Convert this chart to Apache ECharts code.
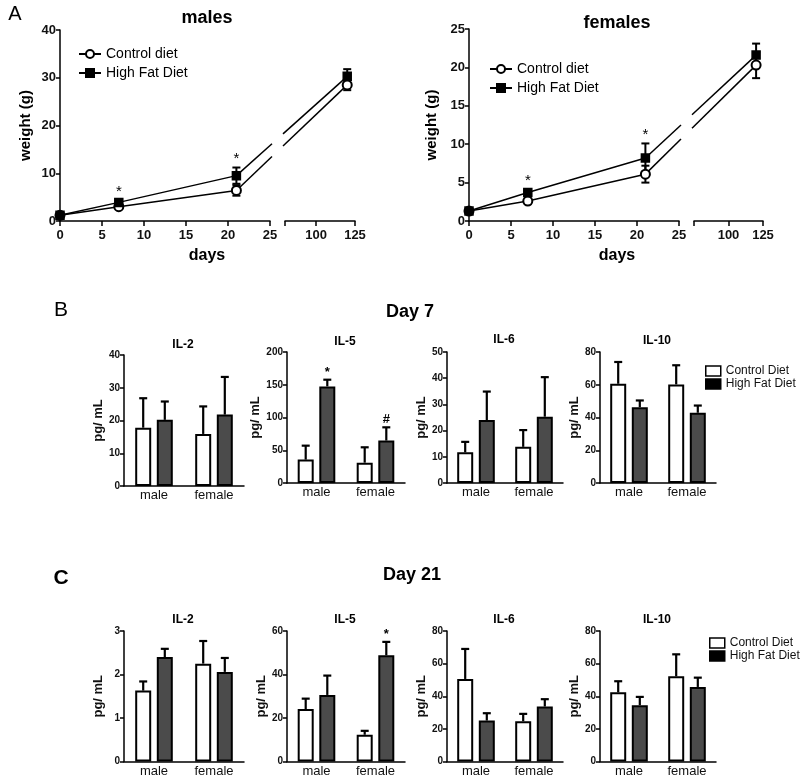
<!DOCTYPE html>
<html><head><meta charset="utf-8">
<script src="https://cdn.jsdelivr.net/npm/echarts@6/dist/echarts.min.js"></script>
<style>html,body{margin:0;padding:0;background:#fff}#c{width:800px;height:782px}</style>
</head><body><div id="c"></div>
<script>
// ---------- Panel A data (body weight, g) ----------
const days = [0, 7, 21, 120];
const maleControl = [1.2, 3.0, 6.4, 28.5];
const maleControlErr = [0.2, 0.4, 1.1, 1.1];
const maleHighFat = [1.2, 3.9, 9.5, 30.3];
const maleHighFatErr = [0.2, 0.5, 1.7, 1.5];
const femaleControl = [1.3, 2.6, 6.1, 20.3];
const femaleControlErr = [0.2, 0.3, 1.1, 1.7];
const femaleHighFat = [1.3, 3.7, 8.2, 21.6];
const femaleHighFatErr = [0.2, 0.4, 1.9, 1.5];
const maleMarks = ['', '*', '*', ''];
const femaleMarks = ['', '*', '*', ''];
const lateDayTicks = [100, 125];

// ---------- Panels B / C data (pg/mL) ----------
const groups = ['male', 'female'];
const d7IL2Ctrl = [17.8, 15.9],  d7IL2CtrlErr = [9.0, 8.4];
const d7IL2Hfd = [20.2, 21.8],   d7IL2HfdErr = [5.6, 11.5];
const d7IL5Ctrl = [35.7, 31.0],  d7IL5CtrlErr = [21.3, 23.5];
const d7IL5Hfd = [147.5, 64.8],  d7IL5HfdErr = [10.2, 20.2];
const d7IL5Marks = ['*', '#'];
const d7IL6Ctrl = [11.7, 13.8],  d7IL6CtrlErr = [4.0, 6.4];
const d7IL6Hfd = [24.0, 25.3],   d7IL6HfdErr = [10.9, 15.1];
const d7IL10Ctrl = [60.6, 60.2], d7IL10CtrlErr = [13.3, 11.7];
const d7IL10Hfd = [46.3, 42.9],  d7IL10HfdErr = [4.1, 4.4];

const d21IL2Ctrl = [1.63, 2.25], d21IL2CtrlErr = [0.21, 0.52];
const d21IL2Hfd = [2.40, 2.06],  d21IL2HfdErr = [0.19, 0.32];
const d21IL5Ctrl = [24.1, 12.3], d21IL5CtrlErr = [4.8, 1.8];
const d21IL5Hfd = [30.6, 48.8],  d21IL5HfdErr = [8.9, 6.2];
const d21IL5Marks = ['', '*'];
const d21IL6Ctrl = [50.6, 24.7], d21IL6CtrlErr = [18.4, 4.5];
const d21IL6Hfd = [25.1, 33.7],  d21IL6HfdErr = [4.5, 4.5];
const d21IL10Ctrl = [42.4, 52.2], d21IL10CtrlErr = [6.8, 13.5];
const d21IL10Hfd = [34.5, 45.7],  d21IL10HfdErr = [5.1, 5.7];

// ---------- styling ----------
const FONT = 'Liberation Sans, Arial, Helvetica, sans-serif';
const BLACK = '#000';
const DARK = '#4b4b4b';
const BAR_W = 16, BAR_GAP = 0.35;

const chart = echarts.init(document.getElementById('c'), null, {renderer: 'canvas'});

const option = {
  animation: false,
  backgroundColor: '#fff',
  textStyle: {fontFamily: FONT},
  grid: [], xAxis: [], yAxis: [], series: [], legend: [], graphic: []
};

function txt(text, x, y, size, weight, align) {
  option.graphic.push({type: 'text', x: x, y: y, silent: true,
    style: {text: text, fill: BLACK, fontSize: size, fontWeight: weight || 'normal', fontFamily: FONT,
      align: align || 'center', verticalAlign: 'middle'}});
}

const axLine = {show: true, onZero: false, lineStyle: {color: BLACK, width: 1.5}};

// ---------- weight panels ----------
function weightPanel(c) {
  const gi = option.grid.length;
  option.grid.push({left: c.left, top: c.top, width: c.w1, height: c.h});
  option.grid.push({left: c.left2, top: c.top, width: c.w2, height: c.h});
  const xa = option.xAxis.length, ya = option.yAxis.length;
  const lab = {fontWeight: 'bold', fontSize: 13, color: '#111', margin: 8};
  option.xAxis.push({gridIndex: gi, type: 'value', min: 0, max: c.seg1Max, interval: 5,
    axisLine: axLine, axisTick: {show: true, length: 5, lineStyle: {color: BLACK, width: 1.5}},
    axisLabel: lab, splitLine: {show: false}});
  option.xAxis.push({gridIndex: gi + 1, type: 'value', min: c.seg2Min, max: 125,
    axisLine: axLine,
    axisTick: {show: true, length: 5, customValues: [c.seg2Min].concat(lateDayTicks), lineStyle: {color: BLACK, width: 1.5}},
    axisLabel: Object.assign({customValues: lateDayTicks}, lab), splitLine: {show: false}});
  option.yAxis.push({gridIndex: gi, type: 'value', min: 0, max: c.ymax, interval: c.yint,
    name: 'weight (g)', nameLocation: 'middle', nameGap: c.nameGap,
    nameTextStyle: {fontWeight: 'bold', fontSize: 15, color: BLACK},
    axisLine: axLine, axisTick: {show: true, length: 4, lineStyle: {color: BLACK, width: 1.5}},
    axisLabel: {fontWeight: 'bold', fontSize: 13, color: '#111', margin: 4}, splitLine: {show: false}});
  option.yAxis.push({gridIndex: gi + 1, type: 'value', min: 0, max: c.ymax, show: false});

  const seg1 = [], seg2 = [];
  days.forEach((d, i) => (d <= c.seg1Max ? seg1 : seg2).push(i));

  function errRender(marks) {
    return function (params, api) {
      const x = api.value(0), m = api.value(1), e = api.value(2), idx = api.value(3);
      const top = api.coord([x, m + e]), bot = api.coord([x, m - e]);
      const ls = {stroke: BLACK, lineWidth: 2};
      const ch = [
        {type: 'line', shape: {x1: top[0], y1: top[1], x2: bot[0], y2: bot[1]}, style: ls},
        {type: 'line', shape: {x1: top[0] - 4, y1: top[1], x2: top[0] + 4, y2: top[1]}, style: ls},
        {type: 'line', shape: {x1: bot[0] - 4, y1: bot[1], x2: bot[0] + 4, y2: bot[1]}, style: ls}
      ];
      const mk = marks ? marks[idx] : '';
      if (mk) ch.push({type: 'text', x: top[0], y: top[1] - 1,
        style: {text: mk, fill: BLACK, fontSize: 15, fontFamily: FONT, align: 'center', verticalAlign: 'bottom'}});
      return {type: 'group', children: ch};
    };
  }
  const diets = [
    {name: 'Control diet', v: c.ctrl, e: c.ctrlErr, marks: null, symbol: 'emptyCircle', size: 9},
    {name: 'High Fat Diet', v: c.hfd, e: c.hfdErr, marks: c.marks, symbol: 'rect', size: 8}
  ];
  // error bars
  diets.forEach(d => {
    [[seg1, xa, ya], [seg2, xa + 1, ya + 1]].forEach(([seg, xi, yi]) => {
      option.series.push({type: 'custom', xAxisIndex: xi, yAxisIndex: yi, silent: true, z: 3,
        renderItem: errRender(d.marks),
        data: seg.map(i => [days[i], d.v[i], d.e[i], i])});
    });
  });
  // connecting line across the axis break
  const a = seg1[seg1.length - 1], b = seg2[0];
  option.series.push({type: 'custom', xAxisIndex: xa, yAxisIndex: ya, silent: true, z: 3,
    data: diets.map(d => [days[a], d.v[a], days[b], d.v[b]]),
    renderItem: function (params, api) {
      const p1 = api.coord([api.value(0), api.value(1)]);
      const p2 = chart.convertToPixel({xAxisIndex: xa + 1, yAxisIndex: ya + 1}, [api.value(2), api.value(3)]);
      const cutA = api.coord([c.seg1Max, 0])[0] + 2;
      const cutB = chart.convertToPixel({xAxisIndex: xa + 1}, c.seg2Min) - 2;
      const yAt = x => p1[1] + (p2[1] - p1[1]) * (x - p1[0]) / (p2[0] - p1[0]);
      const ls = {stroke: BLACK, lineWidth: 1.5};
      return {type: 'group', children: [
        {type: 'line', shape: {x1: p1[0], y1: p1[1], x2: cutA, y2: yAt(cutA)}, style: ls},
        {type: 'line', shape: {x1: cutB, y1: yAt(cutB), x2: p2[0], y2: p2[1]}, style: ls}
      ]};
    }});
  // lines + markers
  diets.forEach(d => {
    [[seg1, xa, ya], [seg2, xa + 1, ya + 1]].forEach(([seg, xi, yi]) => {
      option.series.push({type: 'line', name: d.name, xAxisIndex: xi, yAxisIndex: yi, z: 4,
        symbol: d.symbol, symbolSize: d.size, showSymbol: true,
        lineStyle: {color: BLACK, width: 1.5},
        itemStyle: {color: BLACK, borderColor: BLACK, borderWidth: 1.5},
        emphasis: {disabled: true},
        data: seg.map(i => [days[i], d.v[i]])});
    });
  });
  option.legend.push({left: c.legLeft, top: c.legTop, orient: 'vertical', itemGap: 5,
    itemWidth: 22, itemHeight: 10, selectedMode: false,
    textStyle: {fontSize: 14, color: BLACK, fontFamily: FONT},
    data: ['Control diet', 'High Fat Diet']});
  txt(c.title, c.titleX, c.titleY, 18, 'bold');
  txt('days', c.daysX, 256, 16, 'bold');
}

weightPanel({left: 60, top: 30, w1: 210, h: 191, left2: 285, w2: 70, seg1Max: 25, seg2Min: 80,
  ymax: 40, yint: 10, nameGap: 27,
  ctrl: maleControl, ctrlErr: maleControlErr, hfd: maleHighFat, hfdErr: maleHighFatErr, marks: maleMarks,
  legLeft: 73, legTop: 42, title: 'males', titleX: 207, titleY: 18, daysX: 207});
weightPanel({left: 469, top: 29, w1: 210, h: 192, left2: 694, w2: 69, seg1Max: 25, seg2Min: 75,
  ymax: 25, yint: 5, nameGap: 30,
  ctrl: femaleControl, ctrlErr: femaleControlErr, hfd: femaleHighFat, hfdErr: femaleHighFatErr, marks: femaleMarks,
  legLeft: 484, legTop: 57, title: 'females', titleX: 617, titleY: 23, daysX: 617});

// ---------- cytokine bar panels ----------
function barPanel(c) {
  const gi = option.grid.length;
  option.grid.push({left: c.left, top: c.top, width: c.width, height: c.height});
  const xi = option.xAxis.length, yi = option.yAxis.length;
  option.xAxis.push({gridIndex: gi, type: 'category', data: groups, axisLine: axLine,
    axisTick: {show: false}, axisLabel: {fontSize: 13, color: '#111', margin: 3}});
  option.yAxis.push({gridIndex: gi, type: 'value', min: 0, max: c.max, interval: c.interval,
    name: 'pg/ mL', nameLocation: 'middle', nameGap: 19,
    nameTextStyle: {fontSize: 13, fontWeight: 'bold', color: '#111'},
    axisLine: axLine, axisTick: {show: true, length: 4, lineStyle: {color: BLACK, width: 1.5}},
    axisLabel: {fontWeight: 'bold', fontSize: 10, color: '#111', margin: 4}, splitLine: {show: false}});
  const sets = [
    {name: 'Control Diet', v: c.ctrl, e: c.ctrlErr, color: '#fff', sign: -1, marks: null},
    {name: 'High Fat Diet', v: c.hfd, e: c.hfdErr, color: DARK, sign: 1, marks: c.marks || null}
  ];
  sets.forEach(s => {
    option.series.push({type: 'bar', name: s.name, xAxisIndex: xi, yAxisIndex: yi,
      barWidth: BAR_W, barGap: (BAR_GAP * 100) + '%', emphasis: {disabled: true},
      itemStyle: {color: s.color, borderColor: BLACK, borderWidth: 2},
      data: s.v});
  });
  sets.forEach(s => {
    option.series.push({type: 'custom', xAxisIndex: xi, yAxisIndex: yi, silent: true, z: 3,
      data: s.v.map((v, i) => [i, v, s.e[i]]),
      renderItem: function (params, api) {
        const ci = api.value(0), m = api.value(1), e = api.value(2);
        const base = api.coord([ci, m]), top = api.coord([ci, m + e]);
        const x = base[0] + s.sign * BAR_W * (1 + BAR_GAP) / 2;
        const ls = {stroke: BLACK, lineWidth: 2.2};
        const ch = [
          {type: 'line', shape: {x1: x, y1: base[1], x2: x, y2: top[1]}, style: ls},
          {type: 'line', shape: {x1: x - 4, y1: top[1], x2: x + 4, y2: top[1]}, style: ls}
        ];
        const mk = s.marks ? s.marks[params.dataIndex] : '';
        if (mk) ch.push({type: 'text', x: x, y: top[1] - 1,
          style: {text: mk, fill: BLACK, fontSize: 13, fontWeight: 'bold', fontFamily: FONT, align: 'center', verticalAlign: 'bottom'}});
        return {type: 'group', children: ch};
      }});
  });
  txt(c.title, c.left + c.width / 2 - 1, c.titleY, 12, 'bold');
}

const lefts = [124, 287, 447, 600], widths = [120, 118, 116, 116];
const bTops = [355, 352, 352, 352];
barPanel({left: lefts[0], top: bTops[0], width: widths[0], height: 131, max: 40, interval: 10, title: 'IL-2', titleY: 345,
  ctrl: d7IL2Ctrl, ctrlErr: d7IL2CtrlErr, hfd: d7IL2Hfd, hfdErr: d7IL2HfdErr});
barPanel({left: lefts[1], top: bTops[1], width: widths[1], height: 131, max: 200, interval: 50, title: 'IL-5', titleY: 342,
  ctrl: d7IL5Ctrl, ctrlErr: d7IL5CtrlErr, hfd: d7IL5Hfd, hfdErr: d7IL5HfdErr, marks: d7IL5Marks});
barPanel({left: lefts[2], top: bTops[2], width: widths[2], height: 131, max: 50, interval: 10, title: 'IL-6', titleY: 340,
  ctrl: d7IL6Ctrl, ctrlErr: d7IL6CtrlErr, hfd: d7IL6Hfd, hfdErr: d7IL6HfdErr});
barPanel({left: lefts[3], top: bTops[3], width: widths[3], height: 131, max: 80, interval: 20, title: 'IL-10', titleY: 341,
  ctrl: d7IL10Ctrl, ctrlErr: d7IL10CtrlErr, hfd: d7IL10Hfd, hfdErr: d7IL10HfdErr});

barPanel({left: lefts[0], top: 631, width: widths[0], height: 130.5, max: 3, interval: 1, title: 'IL-2', titleY: 620,
  ctrl: d21IL2Ctrl, ctrlErr: d21IL2CtrlErr, hfd: d21IL2Hfd, hfdErr: d21IL2HfdErr});
barPanel({left: lefts[1], top: 631, width: widths[1], height: 130.5, max: 60, interval: 20, title: 'IL-5', titleY: 620,
  ctrl: d21IL5Ctrl, ctrlErr: d21IL5CtrlErr, hfd: d21IL5Hfd, hfdErr: d21IL5HfdErr, marks: d21IL5Marks});
barPanel({left: lefts[2], top: 631, width: widths[2], height: 130.5, max: 80, interval: 20, title: 'IL-6', titleY: 620,
  ctrl: d21IL6Ctrl, ctrlErr: d21IL6CtrlErr, hfd: d21IL6Hfd, hfdErr: d21IL6HfdErr});
barPanel({left: lefts[3], top: 631, width: widths[3], height: 130.5, max: 80, interval: 20, title: 'IL-10', titleY: 620,
  ctrl: d21IL10Ctrl, ctrlErr: d21IL10CtrlErr, hfd: d21IL10Hfd, hfdErr: d21IL10HfdErr});

const barLegend = {orient: 'vertical', itemGap: 1, itemWidth: 15, itemHeight: 10, icon: 'rect', selectedMode: false,
  itemStyle: {borderColor: BLACK, borderWidth: 1.5},
  textStyle: {fontSize: 12, color: '#111', fontFamily: FONT}, data: ['Control Diet', 'High Fat Diet']};
option.legend.push(Object.assign({left: 700, top: 360}, barLegend));
option.legend.push(Object.assign({left: 704, top: 632}, barLegend));

// panel letters and section titles
txt('A', 15, 14, 20, 'normal');
txt('B', 61, 310, 21, 'normal');
txt('Day 7', 410, 312, 18, 'bold');
txt('C', 61, 578, 21, 'bold');
txt('Day 21', 412, 575, 18, 'bold');

chart.setOption(option);
</script>
</body></html>
